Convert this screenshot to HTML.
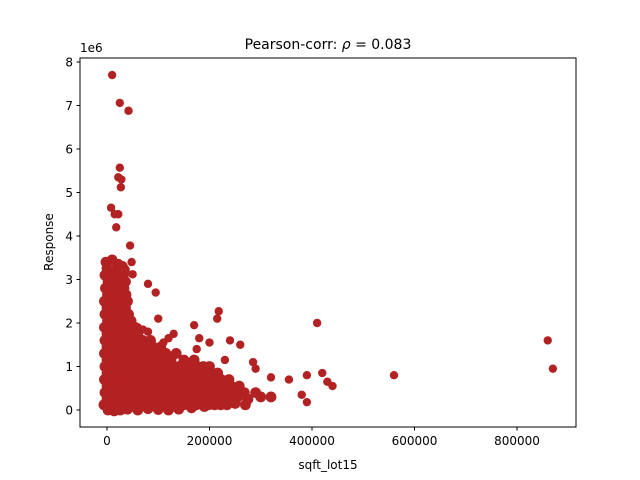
<!DOCTYPE html>
<html><head><meta charset="utf-8"><style>
html,body{margin:0;padding:0;background:#fff;}
svg{display:block;font-family:"DejaVu Sans","Liberation Sans",sans-serif;}
</style></head><body>
<svg id="chart" width="640" height="480" viewBox="0 0 640 480">
<rect x="0" y="0" width="640" height="480" fill="#fff"/>
<g id="points"></g>
<rect x="80" y="58" width="496" height="369" fill="none" stroke="#000" stroke-width="1"/>
<g id="xticks"></g>
<g id="yticks"></g>
<text x="80" y="52" font-size="12">1e6</text>
<text x="328" y="49" font-size="14" text-anchor="middle">Pearson-corr: <tspan font-style="italic">ρ</tspan> = 0.083</text>
<text x="328" y="469" font-size="12" text-anchor="middle">sqft_lot15</text>
<text x="0" y="0" font-size="12" text-anchor="middle" transform="translate(53,242) rotate(-90)">Response</text>
</svg>
<script>
// sqft_lot15 in thousands, response in millions
const sqftLot15 = [10,25,42,25,22,28,27,8,15,22,18,45,48,50,80,95,100,218,215,170,410,860,870,560,440,430,420,390,380,390,355,320,290,285,260,240,230,200,180,175,130,120,110,70,80,60,
-2,10,22,30, 0,12,24,34, -4,8,20,32, 2,14,26,36, -3,9,21,33, 1,13,25,37, -5,7,19,31,40, 0,12,24,36, -4,8,20,32,42, 1,13,25,37,47,
-5,7,19,31,43,55, 0,12,24,36,48,60, -4,8,20,32,44,56,70,85, 0,12,24,36,48,60,72,90,105,
-5,7,19,31,43,55,67,80,95,115,135, 0,12,24,36,48,60,72,84,96,110,125,150,170,
-4,8,20,32,44,56,68,80,92,104,116,128,140,152,164,176,188,200,
0,12,24,36,48,60,72,84,96,108,120,132,144,156,168,180,192,204,216,
-5,7,19,31,43,55,67,79,91,103,115,127,139,151,163,175,187,199,211,223,238,
0,12,24,36,48,60,72,84,96,108,120,132,144,156,168,180,192,204,216,228,242,258,
-4,8,20,32,44,56,68,80,92,104,116,128,140,152,164,176,188,200,212,224,236,250,268,290,
0,12,24,36,48,60,72,84,96,108,120,132,144,156,168,180,192,204,216,228,240,255,275,300,320,
-6,6,18,30,42,54,66,78,90,102,114,126,138,150,162,174,186,198,210,222,234,250,270,
2,14,26,40,60,80,100,120,140,165,190];
const response = [7.7,7.06,6.88,5.57,5.35,5.3,5.12,4.65,4.5,4.5,4.2,3.78,3.4,3.12,2.9,2.7,2.1,2.27,2.1,1.95,2.0,1.6,0.95,0.8,0.55,0.65,0.85,0.8,0.35,0.18,0.7,0.75,0.95,1.1,1.5,1.6,1.15,1.55,1.65,1.4,1.75,1.65,1.55,1.85,1.8,1.9,
3.4,3.45,3.35,3.3, 3.25,3.2,3.28,3.22, 3.1,3.12,3.08,3.1, 2.95,2.97,2.93,2.95, 2.8,2.82,2.78,2.8, 2.65,2.67,2.63,2.65, 2.5,2.52,2.48,2.5,2.5, 2.35,2.37,2.33,2.35, 2.2,2.22,2.18,2.2,2.2, 2.05,2.07,2.03,2.05,2.05,
1.9,1.92,1.88,1.9,1.9,1.9, 1.75,1.77,1.73,1.75,1.75,1.75, 1.6,1.62,1.58,1.6,1.6,1.6,1.6,1.6, 1.45,1.47,1.43,1.45,1.45,1.45,1.45,1.45,1.45,
1.3,1.32,1.28,1.3,1.3,1.3,1.3,1.3,1.3,1.3,1.3, 1.15,1.17,1.13,1.15,1.15,1.15,1.15,1.15,1.15,1.15,1.15,1.15,1.15,
1.0,1.02,0.98,1.0,1.0,1.0,1.0,1.0,1.0,1.0,1.0,1.0,1.0,1.0,1.0,1.0,1.0,1.0,
0.85,0.87,0.83,0.85,0.85,0.85,0.85,0.85,0.85,0.85,0.85,0.85,0.85,0.85,0.85,0.85,0.85,0.85,0.85,
0.7,0.72,0.68,0.7,0.7,0.7,0.7,0.7,0.7,0.7,0.7,0.7,0.7,0.7,0.7,0.7,0.7,0.7,0.7,0.7,0.7,
0.55,0.57,0.53,0.55,0.55,0.55,0.55,0.55,0.55,0.55,0.55,0.55,0.55,0.55,0.55,0.55,0.55,0.55,0.55,0.55,0.55,0.55,
0.4,0.42,0.38,0.4,0.4,0.4,0.4,0.4,0.4,0.4,0.4,0.4,0.4,0.4,0.4,0.4,0.4,0.4,0.4,0.4,0.4,0.4,0.4,0.4,
0.25,0.27,0.23,0.25,0.25,0.25,0.25,0.25,0.25,0.25,0.25,0.25,0.25,0.25,0.25,0.25,0.25,0.25,0.25,0.25,0.25,0.3,0.25,0.3,0.3,
0.12,0.14,0.1,0.12,0.12,0.12,0.12,0.12,0.12,0.12,0.12,0.12,0.12,0.12,0.12,0.12,0.12,0.12,0.12,0.12,0.12,0.15,0.12,
0.0,-0.02,0.0,0.02,0.0,0.03,0.01,0.0,0.02,0.05,0.08];
const xTicks = [0,200000,400000,600000,800000];
const xTickLabels = ["0","200000","400000","600000","800000"];
const yTicks = [0,1,2,3,4,5,6,7,8];

const NS = "http://www.w3.org/2000/svg";
function xs(v){ return 107 + v / 200000 * 102.5; }
function ys(m){ return 410 - m * 43.5; }

const gp = document.getElementById('points');
const n = Math.min(sqftLot15.length, response.length);
for (let i = 0; i < n; i++) {
  const c = document.createElementNS(NS, 'circle');
  c.setAttribute('cx', xs(sqftLot15[i] * 1000).toFixed(2));
  c.setAttribute('cy', ys(response[i]).toFixed(2));
  c.setAttribute('r', i < 46 ? 4.2 : 5.4);
  c.setAttribute('fill', '#b22222');
  
  
  gp.appendChild(c);
}
const gx = document.getElementById('xticks');
xTicks.forEach((v, i) => {
  const x = xs(v);
  const l = document.createElementNS(NS, 'line');
  l.setAttribute('x1', x); l.setAttribute('x2', x);
  l.setAttribute('y1', 427); l.setAttribute('y2', 430.5);
  l.setAttribute('stroke', '#000');
  
  
  gx.appendChild(l);
  const t = document.createElementNS(NS, 'text');
  t.setAttribute('x', x); t.setAttribute('y', 445);
  t.setAttribute('font-size', '12'); t.setAttribute('text-anchor', 'middle');
  t.textContent = xTickLabels[i];
  
  
  gx.appendChild(t);
});
const gy = document.getElementById('yticks');
yTicks.forEach(v => {
  const y = ys(v);
  const l = document.createElementNS(NS, 'line');
  l.setAttribute('x1', 76.5); l.setAttribute('x2', 80);
  l.setAttribute('y1', y); l.setAttribute('y2', y);
  l.setAttribute('stroke', '#000');
  
  
  gy.appendChild(l);
  const t = document.createElementNS(NS, 'text');
  t.setAttribute('x', 73); t.setAttribute('y', y + 4.5);
  t.setAttribute('font-size', '12'); t.setAttribute('text-anchor', 'end');
  t.textContent = String(v);
  
  
  gy.appendChild(t);
});
</script>
</body></html>
